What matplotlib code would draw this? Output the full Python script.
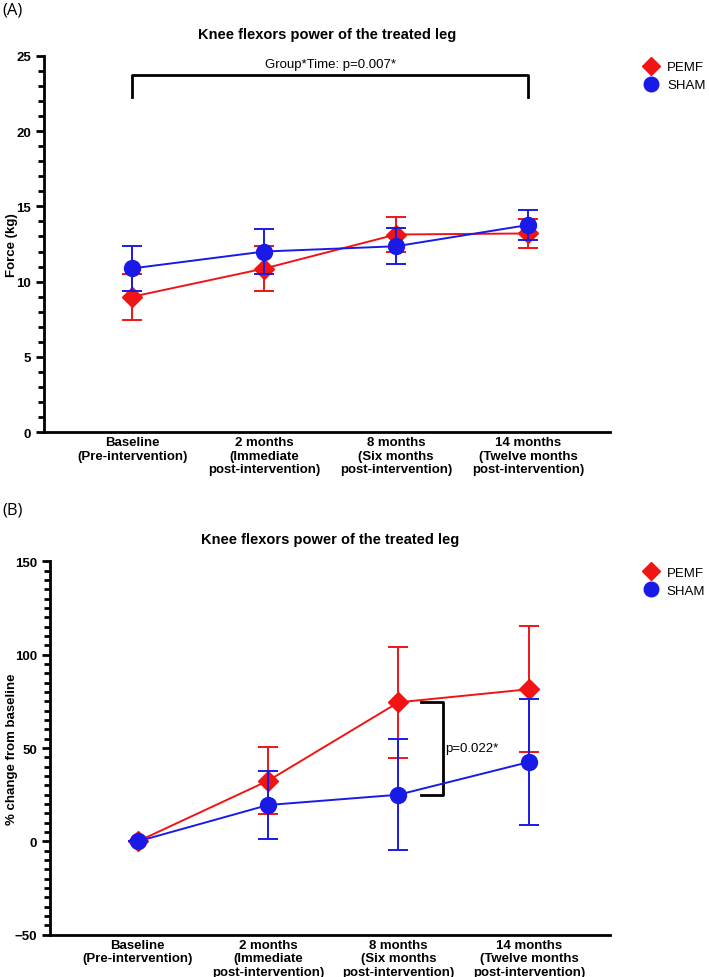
import numpy as np
import matplotlib
matplotlib.use("Agg")
import matplotlib.pyplot as plt
from matplotlib.ticker import MultipleLocator
from matplotlib.lines import Line2D

plt.rcParams["font.family"] = ["Liberation Sans Narrow", "Liberation Sans", "DejaVu Sans"]

# time points shared by both panels
timepoints = [
    "Baseline\n(Pre-intervention)",
    "2 months\n(Immediate\npost-intervention)",
    "8 months\n(Six months\npost-intervention)",
    "14 months\n(Twelve months\npost-intervention)",
]

# panel A: force in kg (mean, error)
pemf_force = [9.0, 10.87, 13.13, 13.2]
pemf_force_err = [1.52, 1.5, 1.18, 0.98]
sham_force = [10.88, 12.0, 12.35, 13.76]
sham_force_err = [1.5, 1.5, 1.2, 0.98]

# panel B: % change from baseline (mean, error)
pemf_pct = [0.0, 32.5, 74.5, 81.5]
pemf_pct_err = [0.0, 18.0, 29.8, 33.8]
sham_pct = [0.0, 19.5, 25.0, 42.5]
sham_pct_err = [0.0, 18.0, 29.8, 33.6]

RED = "#f01414"
BLUE = "#1a1ae6"

fig = plt.figure(figsize=(7.09, 9.78), dpi=100)
axA = fig.add_axes([0.062, 0.557, 0.798, 0.385])
axB = fig.add_axes([0.071, 0.0432, 0.789, 0.3818])

x = np.arange(len(timepoints))


def draw_panel(ax, pemf, pemf_err, sham, sham_err):
    ax.errorbar(x, pemf, yerr=pemf_err, color=RED, marker="D", markersize=10,
                lw=1.4, elinewidth=1.4, capsize=7, capthick=1.4, zorder=3)
    ax.errorbar(x, sham, yerr=sham_err, color=BLUE, marker="o", markersize=11.5,
                lw=1.4, elinewidth=1.4, capsize=7, capthick=1.4, zorder=4)
    for s in ["top", "right"]:
        ax.spines[s].set_visible(False)
    for s in ["left", "bottom"]:
        ax.spines[s].set_linewidth(2)
    ax.set_xlim(-0.67, 3.62)
    ax.set_xticks(x, timepoints)
    ax.tick_params(axis="x", length=0, pad=3)
    ax.tick_params(axis="y", which="major", length=6, width=2)
    ax.tick_params(axis="y", which="minor", length=4, width=2)
    for lab in ax.get_xticklabels():
        lab.set_fontweight("bold")
        lab.set_fontsize(9.5)
        lab.set_linespacing(1.15)
    for lab in ax.get_yticklabels():
        lab.set_fontweight("bold")
        lab.set_fontsize(9.5)
    ax.set_title("Knee flexors power of the treated leg", fontsize=10.5,
                 fontweight="bold", pad=13)
    handles = [
        Line2D([], [], color=RED, marker="D", markersize=9, linestyle="none"),
        Line2D([], [], color=BLUE, marker="o", markersize=10.5, linestyle="none"),
    ]
    ax.legend(handles, ["PEMF", "SHAM"], loc="upper left", bbox_to_anchor=(1.05, 1.0),
              frameon=False, fontsize=9.5, handletextpad=0.6, labelspacing=0.45,
              handlelength=1.2, borderaxespad=0.0)


# (A)
draw_panel(axA, pemf_force, pemf_force_err, sham_force, sham_force_err)
axA.set_ylim(0, 25)
axA.yaxis.set_major_locator(MultipleLocator(5))
axA.yaxis.set_minor_locator(MultipleLocator(1))
axA.set_ylabel("Force (kg)", fontsize=9.5, fontweight="bold")
axA.yaxis.set_label_coords(-0.046, 0.5)
axA.plot([0, 0, 3, 3], [22.25, 23.7, 23.7, 22.25], color="black", lw=2, clip_on=False)
axA.text(1.5, 24.45, "Group*Time: p=0.007*", ha="center", va="center", fontsize=9.5)

# (B)
draw_panel(axB, pemf_pct, pemf_pct_err, sham_pct, sham_pct_err)
axB.set_ylim(-50, 150)
axB.yaxis.set_major_locator(MultipleLocator(50))
axB.yaxis.set_minor_locator(MultipleLocator(5))
axB.set_ylabel("% change from baseline", fontsize=9.5, fontweight="bold")
axB.yaxis.set_label_coords(-0.057, 0.5)
axB.plot([2.17, 2.34, 2.34, 2.17], [74.8, 74.8, 25, 25], color="black", lw=2)
axB.text(2.36, 50, "p=0.022*", ha="left", va="center", fontsize=9.5)

fig.text(0.003, 0.997, "(A)", fontsize=12, ha="left", va="top", family=["Open Sans", "DejaVu Sans"])
fig.text(0.003, 0.486, "(B)", fontsize=12, ha="left", va="top", family=["Open Sans", "DejaVu Sans"])

fig.savefig("out.png", dpi=100)
